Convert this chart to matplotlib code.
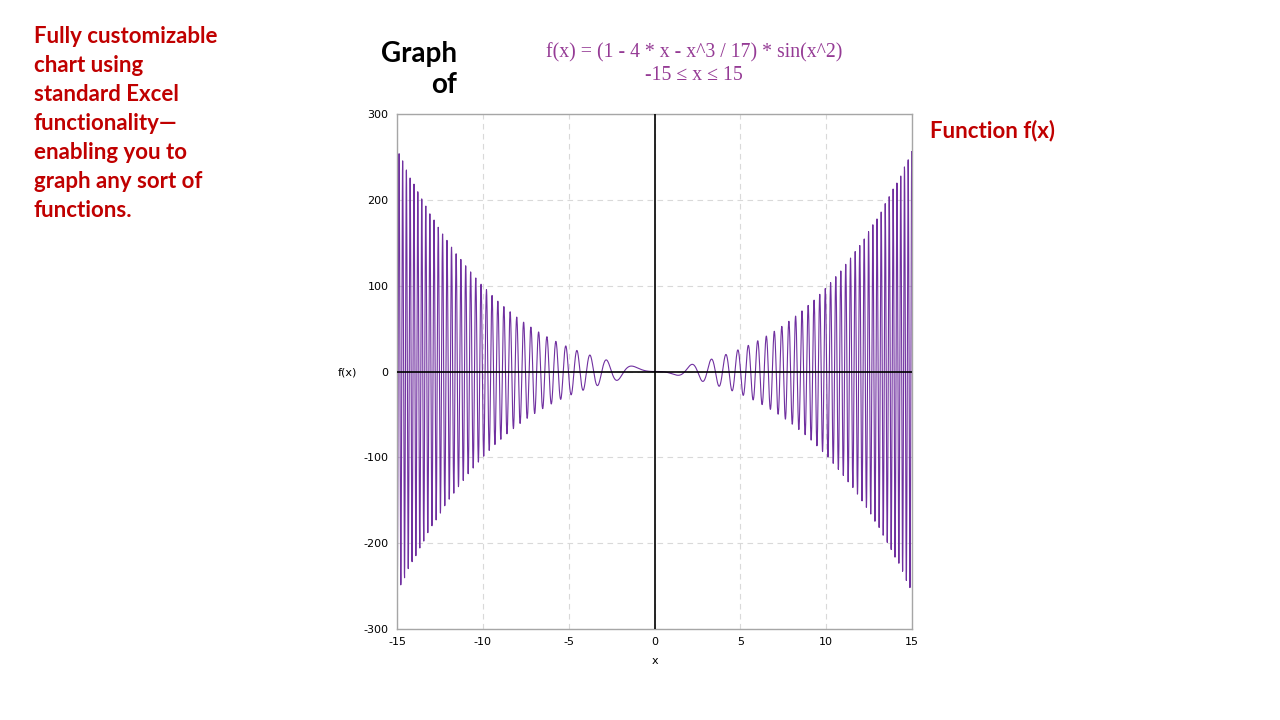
import numpy as np
from matplotlib import pyplot as plt

# chart content
x_min = -15
x_max = 15
x_step = 0.01
x_ticks = [-15, -10, -5, 0, 5, 10, 15]
y_ticks = [-300, -200, -100, 0, 100, 200, 300]
formula_text = 'f(x) = (1 - 4 * x - x^3 / 17) * sin(x^2)'
range_text = '-15 \u2264 x \u2264 15'
side_note = ('Fully customizable\nchart using\nstandard Excel\nfunctionality\u2014\n'
             'enabling you to\ngraph any sort of\nfunctions.')

# the chart plots the function named in its own subtitle
x = np.arange(x_min, x_max + x_step / 2, x_step)
y = (1 - 4 * x - x**3 / 17) * np.sin(x**2)


def main():
  plt.rcParams['axes.unicode_minus'] = False
  fig = plt.figure(figsize=(12.8, 7.2), dpi=100)
  ax = fig.add_axes([397 / 1280, 1 - 629 / 720, 515 / 1280, 515 / 720])

  ax.plot(x, y, color='#7030A0', lw=0.8)
  ax.axhline(0, color='black', lw=1.2, zorder=3)
  ax.axvline(0, color='black', lw=1.2, zorder=3)

  ax.set_xlim(x_min, x_max)
  ax.set_ylim(-300, 300)
  ax.set_xticks(x_ticks)
  ax.set_yticks(y_ticks)
  ax.tick_params(length=0, labelsize=8, pad=6)
  ax.grid(True, ls=(0, (5, 4)), color='#D9D9D9', lw=0.8)
  ax.set_axisbelow(True)
  for s in ax.spines.values():
    s.set_color('#A6A6A6')
    s.set_linewidth(1.0)

  fig.text(655 / 1280, 1 - 661 / 720, 'x', fontsize=8, ha='center', va='center')
  fig.text(347 / 1280, 1 - 372 / 720, 'f(x)', fontsize=8, ha='center', va='center')

  fig.text(457 / 1280, 1 - 54 / 720, 'Graph', fontsize=20, fontweight='bold',
           family='Lato', ha='right', va='center')
  fig.text(457 / 1280, 1 - 85 / 720, 'of', fontsize=20, fontweight='bold',
           family='Lato', ha='right', va='center')

  fig.text(694 / 1280, 1 - 53 / 720, formula_text, fontsize=14.2,
           family='Liberation Serif', color='#953B95', ha='center', va='center')
  fig.text(694 / 1280, 1 - 75 / 720, range_text, fontsize=14.2,
           family='Liberation Serif', color='#953B95', ha='center', va='center')

  fig.text(930 / 1280, 1 - 131 / 720, 'Function f(x)', fontsize=16,
           fontweight='bold', family='Lato', color='#C00000', ha='left', va='center')

  fig.text(34 / 1280, 1 - 26 / 720, side_note, fontsize=16, fontweight='bold',
           family='Lato', color='#C00000', ha='left', va='top', linespacing=1.47)

  fig.savefig('out.png', dpi=100)


if __name__ == '__main__':
  main()
